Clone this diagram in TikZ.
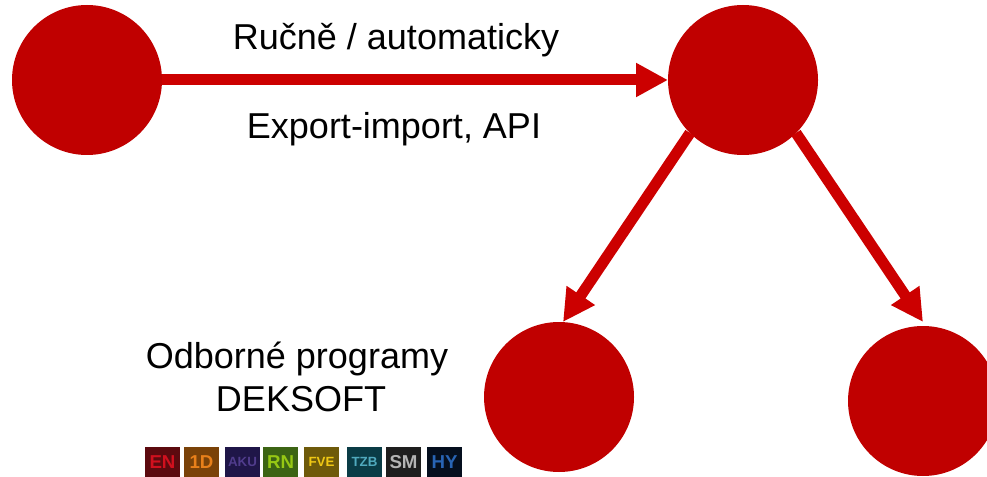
\documentclass[tikz,border=0pt]{standalone}
\usepackage{fontspec}
\setmainfont{Liberation Sans}
\usetikzlibrary{arrows.meta}
\definecolor{disc}{HTML}{C00000}
\definecolor{flow}{HTML}{CC0000}
\tikzset{
  x=0.75pt,y=-0.75pt,
  bigdisc/.style={circle,fill=disc,draw=none,minimum size=112.5pt,inner sep=0pt,outer sep=0pt},
  flowline/.style={draw=flow,line width=8.25pt,-{Triangle[length=24pt,width=24pt,color=flow]}},
  caption/.style={font=\fontsize{27}{32}\selectfont,text=black,inner sep=0pt,anchor=base},
  badge/.style={minimum width=26.25pt,minimum height=22.5pt,inner sep=0pt,outer sep=0pt,anchor=north west,font=\fontsize{#1}{#1}\selectfont\bfseries},
  badge/.default=14
}
\begin{document}
\begin{tikzpicture}
\useasboundingbox (0,0) rectangle (987,477);
\node[bigdisc] (a) at (87,80) {};
\node[bigdisc] (b) at (743,80) {};
\node[bigdisc] (c) at (559,397) {};
\node[bigdisc] (d) at (923,401) {};
\coordinate (ctip) at (563,322);
\coordinate (dtip) at (923,322);
\draw[flowline] (a.east) -- (b.west);
\draw[flowline] (b.south west) -- (ctip);
\draw[flowline] (b.south east) -- (dtip);
\node[caption] (t1) at (396,50) {Ručně / automaticky};
\node[caption] (t2) at (394,139) {Export-import, API};
\node[caption] (t3) at (297,368) {Odborné programy};
\node[caption] (t4) at (301,411) {DEKSOFT};
\node[badge,fill={rgb,255:red,92;green,10;blue,15},text={rgb,255:red,208;green,16;blue,30}] (i1) at (145,447) {EN};
\node[badge,fill={rgb,255:red,122;green,66;blue,8},text={rgb,255:red,232;green,128;blue,26}] (i2) at (184,447) {1D};
\node[badge=10,fill={rgb,255:red,31;green,22;blue,72},text={rgb,255:red,80;green,60;blue,140}] (i3) at (225,447) {AKU};
\node[badge,fill={rgb,255:red,60;green,100;blue,20},text={rgb,255:red,150;green,200;blue,20}] (i4) at (263,447) {RN};
\node[badge=10,fill={rgb,255:red,110;green,90;blue,10},text={rgb,255:red,240;green,200;blue,20}] (i5) at (304,447) {FVE};
\node[badge=10,fill={rgb,255:red,10;green,60;blue,70},text={rgb,255:red,80;green,170;blue,190}] (i6) at (347,447) {TZB};
\node[badge,fill={rgb,255:red,30;green,30;blue,30},text={rgb,255:red,180;green,180;blue,180}] (i7) at (386,447) {SM};
\node[badge,fill={rgb,255:red,5;green,15;blue,30},text={rgb,255:red,40;green,100;blue,180}] (i8) at (427,447) {HY};
\end{tikzpicture}
\end{document}
